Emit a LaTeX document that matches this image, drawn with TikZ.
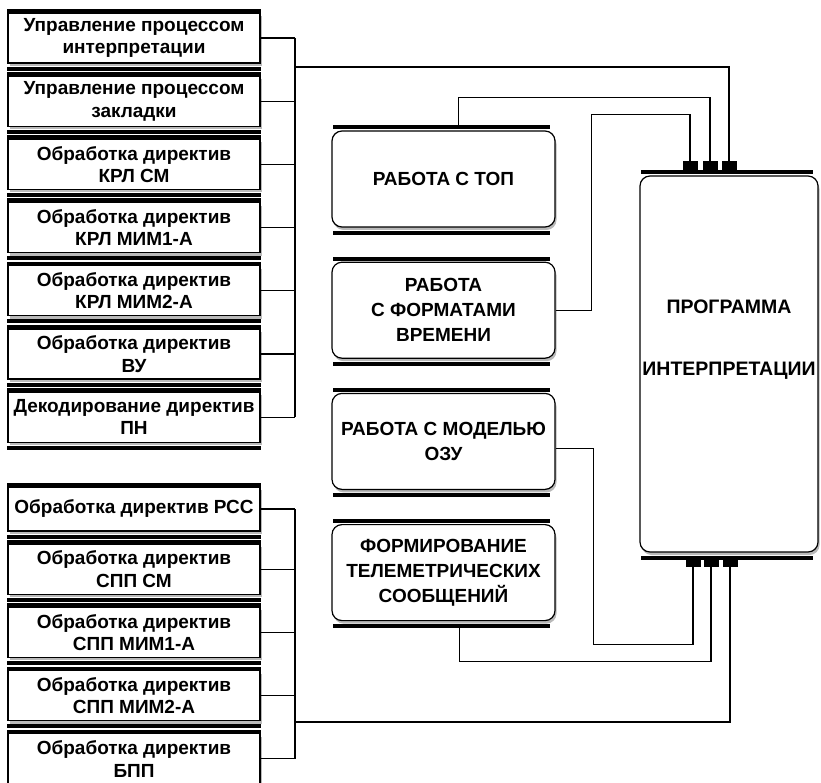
\documentclass[tikz,border=0pt]{standalone}
\usepackage{fontspec}
\setmainfont{Liberation Sans}
\usetikzlibrary{positioning,shadows}

\begin{document}
\begin{tikzpicture}[
    x=1pt, y=-1pt,
    node distance=12pt,
    lbox/.style={draw, fill=white, line width=1.2pt, minimum width=252pt, minimum height=50pt, align=center, inner sep=1pt,
      font=\bfseries\fontsize{19}{22.5}\selectfont,
      drop shadow={shadow xshift=1.5pt, shadow yshift=-3pt, fill=gray!55, opacity=1}},
    mbox/.style={lbox, rounded corners=10pt, minimum width=223pt, minimum height=96pt, font=\bfseries\fontsize{19}{25}\selectfont},
    bar/.style={line width=4pt},
    tab/.style={fill=black, minimum width=15pt, minimum height=9pt, inner sep=0pt},
    wire/.style={line width=1.3pt}
  ]
  \useasboundingbox (0,0) rectangle (821,783);
  % left column, upper group
  \node[lbox] (uint) at (134,38) {Управление процессом\\интерпретации};
  \node[lbox, below=of uint] (uzak) {Управление процессом\\закладки};
  \node[lbox, below=of uzak] (krlsm) {Обработка директив\\КРЛ СМ};
  \node[lbox, below=of krlsm] (krlm1) {Обработка директив\\КРЛ МИМ1-А};
  \node[lbox, below=of krlm1] (krlm2) {Обработка директив\\КРЛ МИМ2-А};
  \node[lbox, below=of krlm2] (vu) {Обработка директив\\ВУ};
  \node[lbox, below=of vu] (pn) {Декодирование директив\\ПН};
  % left column, lower group
  \node[lbox, minimum height=44pt] (rss) at (134,509) {Обработка директив РСС};
  \node[lbox, below=of rss] (sppsm) {Обработка директив\\СПП СМ};
  \node[lbox, below=of sppsm] (sppm1) {Обработка директив\\СПП МИМ1-А};
  \node[lbox, below=of sppm1] (sppm2) {Обработка директив\\СПП МИМ2-А};
  \node[lbox, below=of sppm2] (bpp) {Обработка директив\\БПП};
  % middle column
  \node[mbox] (top) at (443.5,179) {РАБОТА С ТОП};
  \node[mbox, below=34pt of top] (fmt) {РАБОТА\\С ФОРМАТАМИ\\ВРЕМЕНИ};
  \node[mbox, below=34pt of fmt] (ozu) {РАБОТА С МОДЕЛЬЮ\\ОЗУ};
  \node[mbox, below=34pt of ozu] (tlm) {ФОРМИРОВАНИЕ\\ТЕЛЕМЕТРИЧЕСКИХ\\СООБЩЕНИЙ};
  % program
  \node[mbox, minimum width=178pt, minimum height=376pt] (prog) at (729,364) {};
  \node[font=\bfseries\fontsize{19.5}{24}\selectfont, align=center, inner sep=0pt] (progtxt) at ([yshift=24pt]prog.center) {ПРОГРАММА\\[38pt]ИНТЕРПРЕТАЦИИ};
  \node[tab, anchor=south] (t1) at ([xshift=-39pt, yshift=5pt]prog.north) {};
  \node[tab, anchor=south] (t2) at ([xshift=-19pt, yshift=5pt]prog.north) {};
  \node[tab, anchor=south] (t3) at ([yshift=5pt]prog.north) {};
  \node[tab, anchor=north] (b1) at ([xshift=-36pt, yshift=-5pt]prog.south) {};
  \node[tab, anchor=north] (b2) at ([xshift=-18pt, yshift=-5pt]prog.south) {};
  \node[tab, anchor=north] (b3) at ([xshift=1pt, yshift=-5pt]prog.south) {};
  % black bars
  \foreach \n in {uint,uzak,krlsm,krlm1,krlm2,vu,pn,rss,sppsm,sppm1,sppm2,bpp} {
    \draw[bar] ([yshift=1.5pt]\n.north west) -- ([yshift=1.5pt]\n.north east);
    \draw[bar] ([yshift=-5pt]\n.south west) -- ([yshift=-5pt]\n.south east);
  }
  \foreach \n in {top,fmt,ozu,tlm,prog} {
    \draw[bar] ([xshift=2pt, yshift=3pt]\n.north west) -- ([xshift=-6pt, yshift=3pt]\n.north east);
    \draw[bar] ([xshift=2pt, yshift=-5pt]\n.south west) -- ([xshift=-6pt, yshift=-5pt]\n.south east);
  }
  % buses
  \coordinate (busA) at (295,67);
  \coordinate (busB) at (295,722);
  \foreach \n in {uint,uzak,krlsm,krlm1,krlm2,vu,pn}
    \draw[wire] (\n.east) -- (\n.east -| busA);
  \draw[wire] (uint.east -| busA) -- (pn.east -| busA);
  \foreach \n in {rss,sppsm,sppm1,sppm2,bpp}
    \draw[wire] (\n.east) -- (\n.east -| busB);
  \draw[wire] (rss.east -| busB) -- (bpp.east -| busB);
  % connections to the program
  \draw[wire] (busA) -| (t3.north);
  \draw[wire] ([xshift=15pt, yshift=3pt]top.north) -- ++(0,-30) -| (t2.north);
  \draw[wire] (fmt.east) -| ++(36,-196) -| (t1.north);
  \draw[wire] ([yshift=-7pt]ozu.east) -| ++(38,196) -| (b1.south);
  \draw[wire] ([xshift=16pt, yshift=-5pt]tlm.south) -- ++(0,35) -| (b2.south);
  \draw[wire] (busB) -| (b3.south);
\end{tikzpicture}
\end{document}
